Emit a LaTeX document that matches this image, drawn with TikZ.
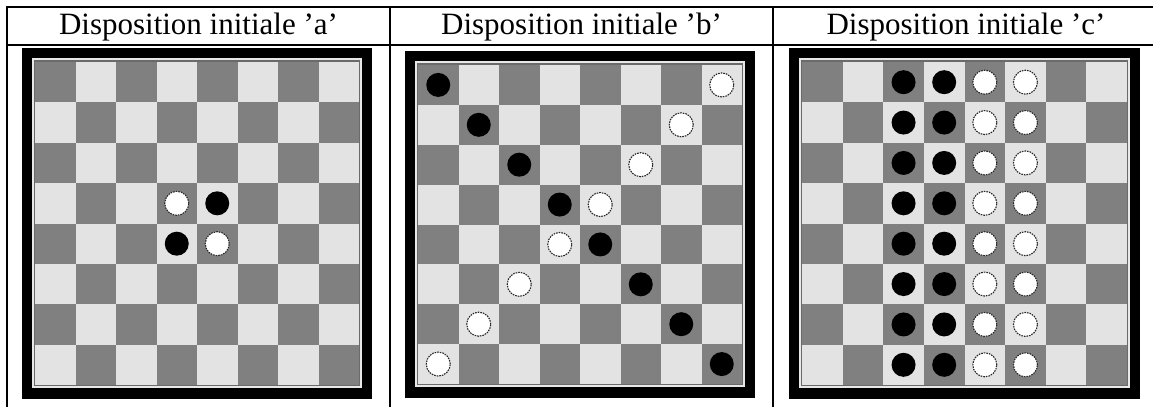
\documentclass[tikz,border=0pt]{standalone}
\usepackage{fontspec}
\setmainfont{Liberation Serif}
\definecolor{sqdark}{HTML}{808080}
\definecolor{sqlight}{HTML}{E3E3E3}
\definecolor{framelight}{HTML}{E8E8E8}
\definecolor{framedark}{HTML}{6A6A6A}
\newcommand{\drawboard}[4]{%
  \pgfmathsetmacro\sqx{#1+13}\pgfmathsetmacro\sqy{#2+14}%
  \pgfmathsetmacro\sqw{(#3-#1-26)/8}\pgfmathsetmacro\sqh{(#4-#2-28)/8}%
  \fill[black] (#1,#2) rectangle (#3,#4);
  \fill[framelight] (#1+10,#2+10) rectangle (#3-10,#4-11);
  \fill[framedark] (#1+12,#2+12) rectangle (#3-12,#4-13);
  \foreach \r in {0,...,7}{\foreach \c in {0,...,7}{%
    \pgfmathtruncatemacro\pty{mod(\r+\c,2)}%
    \ifnum\pty=0 \def\sqcol{sqdark}\else\def\sqcol{sqlight}\fi
    \fill[\sqcol] (\sqx+\c*\sqw,\sqy+\r*\sqh) rectangle ++(\sqw,\sqh);
  }}%
}
\newcommand{\piece}[3]{%
  \path[#3] (\sqx+#2*\sqw+0.5*\sqw,\sqy+#1*\sqh+0.5*\sqh) circle (12pt);}
\begin{document}
\begin{tikzpicture}[x=1pt,y=-1pt,
  tline/.style={line width=2pt,black},
  head/.style={font=\fontsize{31}{36}\selectfont,anchor=base,inner sep=0pt},
  bpiece/.style={fill=black},
  wpiece/.style={fill=white,draw=black!85,line width=1.1pt,dash pattern=on 1.6pt off 1pt}]
\useasboundingbox (0,0) rectangle (1153,407);
% table
\draw[tline] (6,7) -- (1153,7);
\draw[tline] (6,45) -- (1153,45);
\draw[tline] (7,7) -- (7,407);
\draw[tline] (390,7) -- (390,407);
\draw[tline] (773,7) -- (773,407);
% headers
\node[head] (ha) at (198.5,34) {Disposition initiale \textquoteright a\textquoteright};
\node[head] (hb) at (581.5,34) {Disposition initiale \textquoteright b\textquoteright};
\node[head] (hc) at (966,34) {Disposition initiale \textquoteright c\textquoteright};
% board a
\drawboard{22}{48}{372}{399}
\piece{3}{3}{wpiece}\piece{3}{4}{bpiece}
\piece{4}{3}{bpiece}\piece{4}{4}{wpiece}
% board b
\drawboard{405}{51}{755}{398}
\foreach \r in {0,...,7}{%
  \pgfmathtruncatemacro\cw{7-\r}%
  \piece{\r}{\r}{bpiece}\piece{\r}{\cw}{wpiece}}
% board c
\drawboard{789}{48}{1140}{399}
\foreach \r in {0,...,7}{%
  \piece{\r}{2}{bpiece}\piece{\r}{3}{bpiece}
  \piece{\r}{4}{wpiece}\piece{\r}{5}{wpiece}}
\end{tikzpicture}
\end{document}
